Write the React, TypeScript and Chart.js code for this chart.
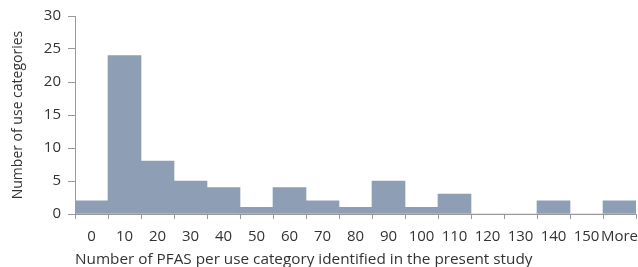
import React, { useEffect, useRef } from "react";
import { Chart, registerables } from "chart.js";

Chart.register(...registerables);

const categories = ["0", "10", "20", "30", "40", "50", "60", "70", "80", "90", "100", "110", "120", "130", "140", "150", "More"];
const counts = [2, 24, 8, 5, 4, 1, 4, 2, 1, 5, 1, 3, 0, 0, 2, 0, 2];
const yTicks = [0, 5, 10, 15, 20, 25, 30];
const xTitle = "Number of PFAS per use category identified in the present study";
const yTitle = "Number of use categories";

const FONT = "'Open Sans', sans-serif";

export default function App() {
  const ref = useRef<HTMLCanvasElement | null>(null);
  useEffect(() => {
    if (!ref.current) return;
    const chart = new Chart(ref.current, {
      type: "bar",
      data: {
        labels: categories,
        datasets: [
          {
            data: counts,
            backgroundColor: "rgb(142,158,180)",
            borderWidth: 0,
            barPercentage: 1,
            categoryPercentage: 1,
          },
        ],
      },
      options: {
        animation: false,
        responsive: false,
        maintainAspectRatio: false,
        layout: { padding: { top: 16, right: 2, left: 0, bottom: 0 } },
        plugins: { legend: { display: false }, tooltip: { enabled: false } },
        scales: {
          x: {
            afterFit: (s: any) => { s.height = 53; s.paddingLeft = 0; s.paddingRight = 0; },
            grid: { offset: true, drawOnChartArea: false, tickLength: 5, color: "#999" },
            border: { color: "#999" },
            ticks: { color: "#333", font: { family: FONT, size: 15 }, padding: 9, maxRotation: 0, autoSkip: false },
            title: { display: true, text: xTitle, align: "start", color: "#333", font: { family: FONT, size: 15.3 }, padding: { top: 0, bottom: -2 } },
          },
          y: {
            min: 0,
            max: 30,
            afterFit: (s: any) => { s.width = 75; s.paddingTop = 0; s.paddingBottom = 0; },
            afterBuildTicks: (s: any) => { s.ticks = yTicks.map((v) => ({ value: v })); },
            grid: { drawOnChartArea: false, tickLength: 7, color: "#999" },
            border: { color: "#999" },
            ticks: { color: "#333", font: { family: FONT, size: 15 }, padding: 7 },
            title: { display: true, text: yTitle, color: "#333", font: { family: FONT, size: 14 }, padding: { top: 10, bottom: 0 } },
          },
        },
      },
    });
    return () => chart.destroy();
  }, []);
  return (
    <div style={{ position: "fixed", left: 0, top: 0, width: 638, height: 267, background: "#fff" }}>
      <canvas ref={ref} width={638} height={267} />
    </div>
  );
}
